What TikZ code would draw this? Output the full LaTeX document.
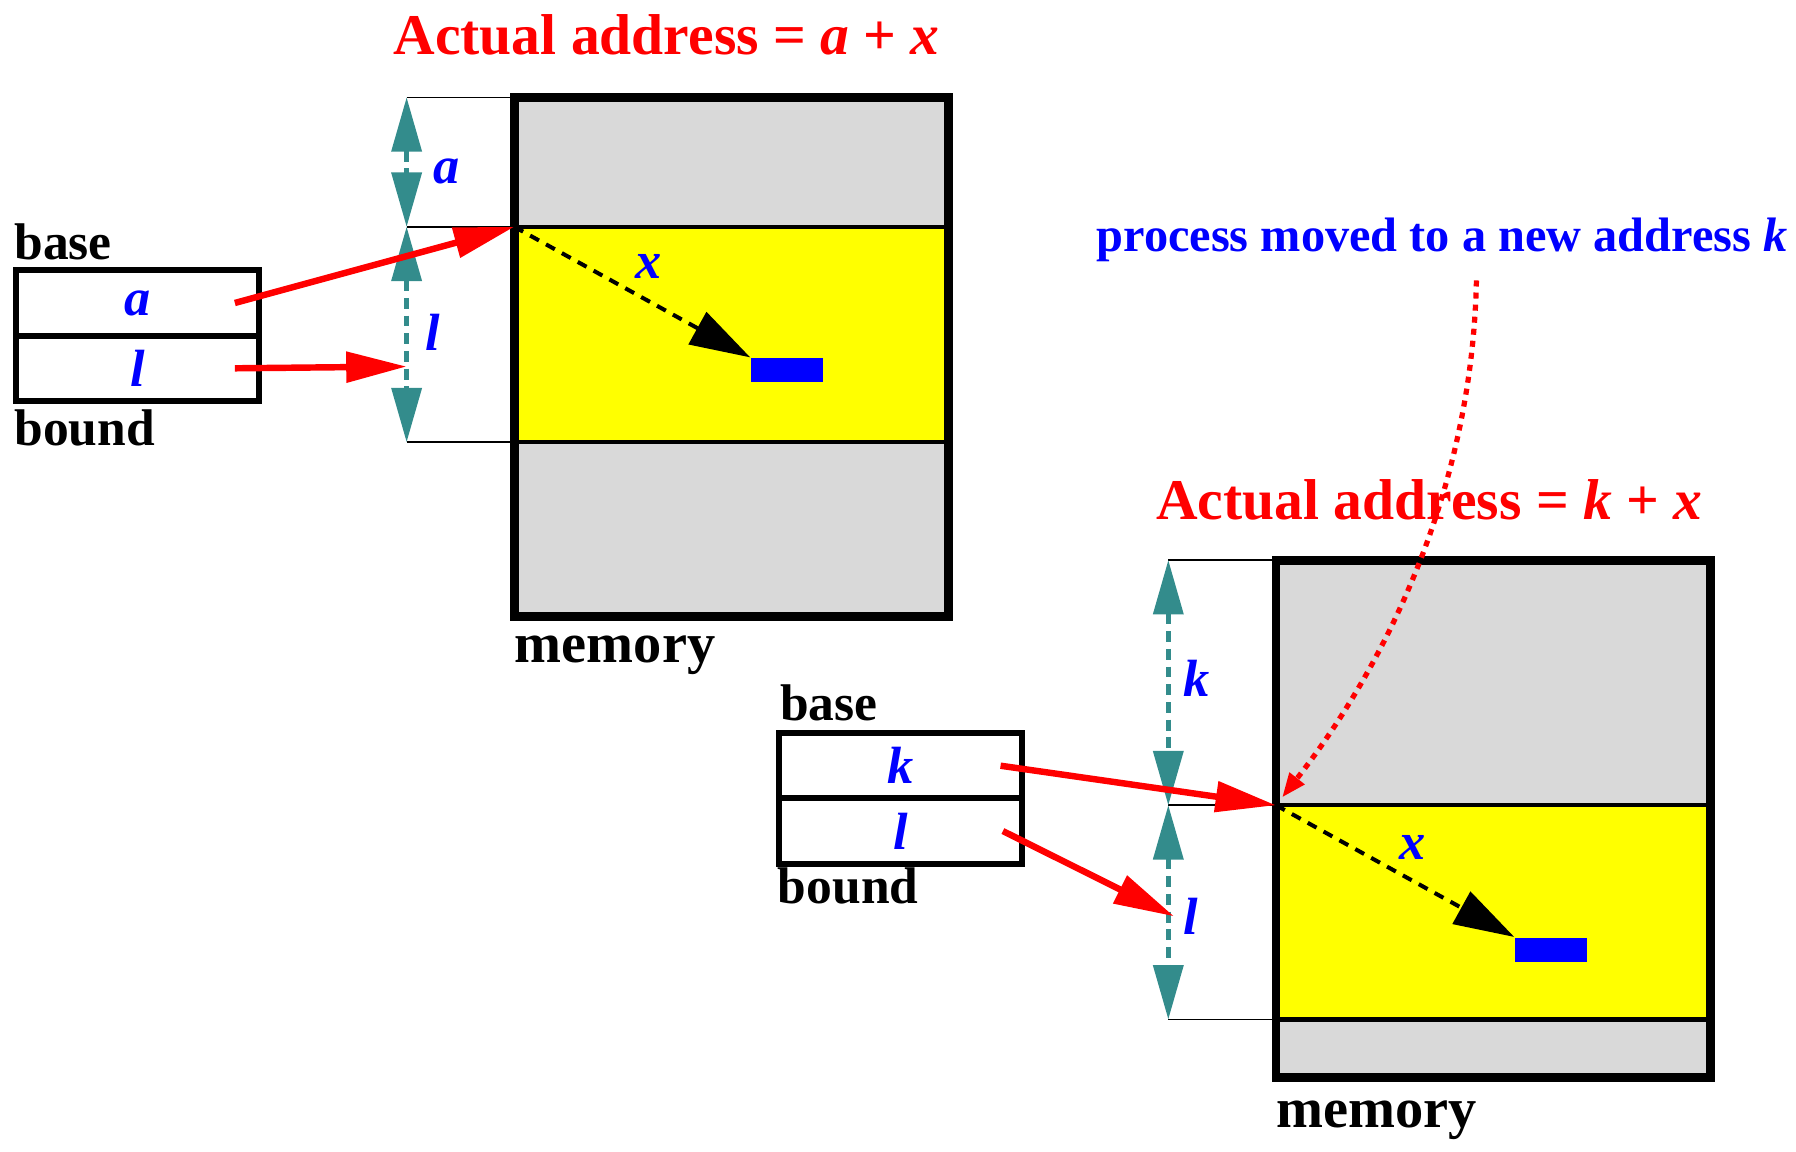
\documentclass[tikz,border=0pt]{standalone}
\usepackage{fontspec}
\setmainfont{Liberation Serif}
\usetikzlibrary{arrows.meta,positioning,calc}
\definecolor{memgray}{RGB}{217,217,217}
\definecolor{memyellow}{RGB}{255,255,0}
\definecolor{dimteal}{RGB}{51,140,140}
\definecolor{pureblue}{RGB}{0,0,255}
\definecolor{purered}{RGB}{255,0,0}
\begin{document}
\begin{tikzpicture}[x=0.01cm,y=-0.01cm,
  regcell/.style={draw=black,line width=1.5pt,outer sep=0pt,inner sep=0pt,
    minimum width=2.12cm,minimum height=0.57cm,text=pureblue,
    font=\fontsize{13}{15}\selectfont\bfseries\itshape},
  lbl/.style={inner sep=0pt,font=\fontsize{12.8}{15}\selectfont\bfseries},
  titletext/.style={inner sep=0pt,text=purered,font=\fontsize{14.3}{17}\selectfont\bfseries},
  memlbl/.style={inner sep=0pt,font=\fontsize{14}{17}\selectfont\bfseries},
  varlbl/.style={inner sep=0pt,text=pureblue,font=\fontsize{13}{15}\selectfont\bfseries\itshape},
  ptr/.style={purered,line width=1.6pt,-{Triangle[length=15pt,width=7.4pt]}},
  dimline/.style={dimteal,line width=1.1pt,dash pattern=on 2.7pt off 1.7pt,
    {Triangle[length=13.5pt,width=7.4pt]}-{Triangle[length=13.5pt,width=7.4pt]}},
  dimtick/.style={black,line width=0.4pt},
  offs/.style={black,line width=1pt,dash pattern=on 2.5pt off 2pt,-{Triangle[length=15pt,width=9pt]}},
  cellobj/.style={fill=pureblue,inner sep=0pt,minimum width=0.63cm,minimum height=0.21cm,anchor=north west},
  movearrow/.style={purered,line width=1.3pt,dash pattern=on 1.5pt off 1.5pt,-{Triangle[length=6pt,width=4.5pt]}}]
  \useasboundingbox (0,0) rectangle (1568,1005);
  % memory column: side, left, top, base, limit, bottom
  \def\memcol#1(#2,#3,#4,#5,#6){
    \fill[memgray] (#2,#3) rectangle (#2+379,#6);
    \fill[memyellow] (#2,#4) rectangle (#2+379,#5);
    \draw[line width=1.1pt] (#2,#4) -- (#2+379,#4) (#2,#5) -- (#2+379,#5);
    \draw[line width=2.2pt] (#2,#3) rectangle (#2+379,#6);
    \coordinate (m#1-top) at (#2,#3);
    \coordinate (m#1-base) at (#2,#4);
    \coordinate (m#1-lim) at (#2,#5);
    \coordinate (d#1-top) at (#2-94,#3);
    \coordinate (d#1-base) at (#2-94,#4);
    \coordinate (d#1-lim) at (#2-94,#5);
  }
  \memcol{L}(449,85,198,386,538)
  \memcol{R}(1114,489,703,890,941)
  \foreach \s in {L,R}{
    \foreach \p in {top,base,lim}
      \draw[dimtick] (d\s-\p) -- (m\s-\p);
    \draw[dimline] (d\s-top) -- (d\s-base);
    \draw[dimline] (d\s-base) -- (d\s-lim);
  }
  \coordinate (dL-hit) at (355,320);
  \coordinate (dR-hit) at (1025,800);

  % registers
  \node[regcell] (rLa) at (120,264.5) {a};
  \node[regcell,below=0pt of rLa] (rLb) {l};
  \node[regcell] (rRa) at (786.5,668.5) {k};
  \node[regcell,below=0pt of rRa] (rRb) {l};
  \node[lbl,above right=0.08cm and -0.02cm of rLa.north west] (baseL) {base};
  \node[lbl,below right=0.07cm and -0.02cm of rLb.south west] (boundL) {bound};
  \node[lbl,above right=0.1cm and 0cm of rRa.north west] (baseR) {base};
  \node[lbl,below right=0.03cm and -0.02cm of rRb.south west] (boundR) {bound};

  % labels
  \node[varlbl] (vA) at (390,150) {a};
  \node[varlbl] (vL1) at (378,290) {l};
  \node[varlbl] (vK) at (1045,592) {k};
  \node[varlbl] (vL2) at (1040,800) {l};
  \node[varlbl] (xL) at (566,233) {x};
  \node[varlbl] (xR) at (1233,740) {x};
  \node[titletext] (addrL) at (582,30) {Actual address = \textit{a} + \textit{x}};
  \node[titletext] (addrR) at (1248,436) {Actual address = \textit{k} + \textit{x}};
  \node[memlbl] (memL) at (537,572) {memory};
  \node[memlbl] (memR) at (1202,978) {memory};
  \node[lbl,text=pureblue,font=\fontsize{12}{14}\selectfont\bfseries] (moved) at (1259,209)
    {process moved to a new address \textit{k}};

  % targets
  \node[cellobj] (tL) at (655,312) {};
  \node[cellobj] (tR) at (1322,818) {};

  \draw[ptr] ([xshift=-0.21cm]rLa.east) -- (mL-base);
  \draw[ptr] ([xshift=-0.21cm]rLb.east) -- (dL-hit);
  \draw[ptr] ([xshift=-0.19cm]rRa.east) -- (mR-base);
  \draw[ptr] ([xshift=-0.17cm]rRb.east) -- (dR-hit);
  \draw[offs] (mL-base) -- (tL.north west);
  \draw[offs] (mR-base) -- (tR.north west);
  \draw[movearrow,shorten >=2.5pt] ([xshift=0.3cm,yshift=-0.16cm]moved.south)
    .. controls (1285,437) and (1202,591) .. (mR-base);
\end{tikzpicture}
\end{document}
